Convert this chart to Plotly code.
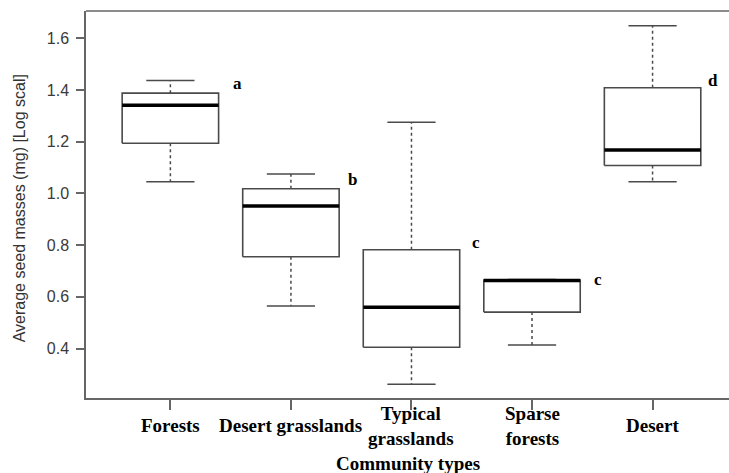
import plotly.graph_objects as go

# Community types and five-number summaries of log seed mass
categories = ["Forests", "Desert grasslands", "Typical<br>grasslands", "Sparse<br>forests", "Desert"]
lower_whisker = [1.045, 0.565, 0.262, 0.414, 1.045]
q1 = [1.194, 0.755, 0.405, 0.541, 1.108]
median = [1.341, 0.951, 0.560, 0.663, 1.168]
q3 = [1.388, 1.018, 0.782, 0.665, 1.409]
upper_whisker = [1.437, 1.075, 1.275, 0.667, 1.649]

# Significance group letters and where they sit
group_letters = ["a", "b", "c", "c", "d"]
letter_x = [1.557, 2.51, 3.539, 4.547, 5.50]
letter_y = [1.426, 1.054, 0.810, 0.667, 1.435]

y_ticks = [0.4, 0.6, 0.8, 1.0, 1.2, 1.4, 1.6]

BOX_HALF = 0.4
CAP_HALF = 0.2
BOX_COLOR = "#4a4a4a"
AXIS_COLOR = "#666666"

# layout in pixels
FIG_W, FIG_H = 729, 473
M_L, M_R, M_T, M_B = 86, 0, 11, 75
PLOT_H = FIG_H - M_T - M_B
LABEL_CENTER_PX = 425.5   # vertical centre of the category labels


def px_to_paper_y(py):
    return (FIG_H - M_B - py) / PLOT_H


fig = go.Figure()

for i in range(len(categories)):
    x0 = i + 1
    # dashed whiskers
    fig.add_trace(go.Scatter(
        x=[x0, x0, None, x0, x0],
        y=[q3[i], upper_whisker[i], None, q1[i], lower_whisker[i]],
        mode="lines", line=dict(color=BOX_COLOR, width=1.5, dash="3px,3px"),
        hoverinfo="skip", showlegend=False))
    # whisker caps
    fig.add_trace(go.Scatter(
        x=[x0 - CAP_HALF, x0 + CAP_HALF, None, x0 - CAP_HALF, x0 + CAP_HALF],
        y=[upper_whisker[i], upper_whisker[i], None, lower_whisker[i], lower_whisker[i]],
        mode="lines", line=dict(color=BOX_COLOR, width=1.5),
        hoverinfo="skip", showlegend=False))
    # box
    fig.add_trace(go.Scatter(
        x=[x0 - BOX_HALF, x0 + BOX_HALF, x0 + BOX_HALF, x0 - BOX_HALF, x0 - BOX_HALF],
        y=[q1[i], q1[i], q3[i], q3[i], q1[i]],
        mode="lines", fill="toself", fillcolor="white",
        line=dict(color=BOX_COLOR, width=1.6),
        hoverinfo="skip", showlegend=False))
    # median
    fig.add_trace(go.Scatter(
        x=[x0 - BOX_HALF, x0 + BOX_HALF], y=[median[i], median[i]],
        mode="lines", line=dict(color="black", width=3.5),
        hoverinfo="skip", showlegend=False))

annotations = []
for lx, ly, txt in zip(letter_x, letter_y, group_letters):
    annotations.append(dict(
        x=lx, y=ly, xref="x", yref="y", text="<b>" + txt + "</b>", showarrow=False,
        xanchor="center", yanchor="middle",
        font=dict(family="Liberation Serif", size=17, color="black")))

# category labels under the axis, each block centred vertically like base-R axis labels
label_font = dict(family="Liberation Serif", size=19, color="black")
for i, cat in enumerate(categories):
    annotations.append(dict(
        x=i + 1, y=px_to_paper_y(LABEL_CENTER_PX), xref="x", yref="paper",
        text="<b>" + cat + "</b>", showarrow=False,
        xanchor="center", yanchor="middle", font=label_font))

annotations.append(dict(
    x=0.5, y=px_to_paper_y(463.5), xref="paper", yref="paper", text="<b>Community types</b>",
    showarrow=False, xanchor="center", yanchor="middle", font=label_font))

annotations.append(dict(
    x=(19 - M_L) / (FIG_W - M_L - M_R), y=0.49, xref="paper", yref="paper",
    text="Average seed masses (mg) [Log scal]", textangle=-90,
    showarrow=False, xanchor="center", yanchor="middle",
    font=dict(family="Liberation Sans", size=16, color="#333333")))

fig.update_layout(
    width=FIG_W, height=FIG_H,
    margin=dict(l=M_L, r=M_R, t=M_T, b=M_B),
    paper_bgcolor="white", plot_bgcolor="white",
    annotations=annotations,
    shapes=[dict(type="line", xref="paper", yref="paper", x0=0, x1=1, y0=1, y1=1,
                 line=dict(color=AXIS_COLOR, width=1.5))],
)

fig.update_xaxes(
    range=[0.30, 5.634], showgrid=False, zeroline=False,
    showline=True, linecolor=AXIS_COLOR, linewidth=1.5,
    tickvals=[1, 2, 3, 4, 5], ticks="outside", ticklen=10, tickwidth=1.5,
    tickcolor=AXIS_COLOR, showticklabels=False)

fig.update_yaxes(
    range=[0.2088, 1.7057], showgrid=False, zeroline=False,
    showline=True, linecolor=AXIS_COLOR, linewidth=1.5,
    tickvals=y_ticks, tickformat=".1f", ticks="outside", ticklen=8, tickwidth=1.5,
    tickcolor=AXIS_COLOR, ticklabelstandoff=4,
    tickfont=dict(family="Liberation Sans", size=16, color="#3a3a3a"))

fig.write_html("out.html")
